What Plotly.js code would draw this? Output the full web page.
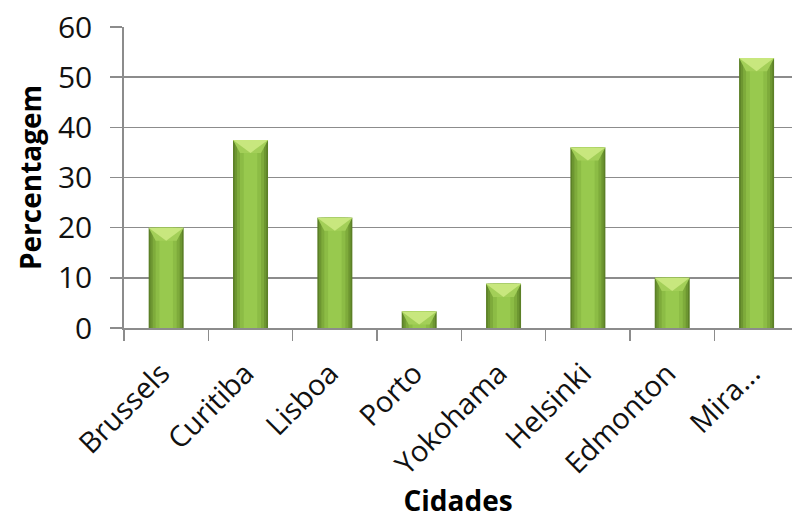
<!DOCTYPE html>
<html>
<head>
<meta charset="utf-8">
<script src="https://cdn.plot.ly/plotly-3.0.1.min.js"></script>
<style>html,body{margin:0;padding:0;background:#fff;}#chart{width:792px;height:519px;}</style>
</head>
<body>
<div id="chart"></div>
<script>
const categories = ["Brussels", "Curitiba", "Lisboa", "Porto", "Yokohama", "Helsinki", "Edmonton", "Mira..."];
const percentages = [20, 37.5, 22, 3.3, 8.8, 36, 10, 53.8];
const yTickValues = [0, 10, 20, 30, 40, 50, 60];

const layers = [
  {w: 0.415, c: "#5c8027"},
  {w: 0.375, c: "#6d9631"},
  {w: 0.32, c: "#7eab3b"},
  {w: 0.25, c: "#8cbc45"},
  {w: 0.16, c: "#98c94e"}
];
const traces = layers.map(l => ({
  type: "bar",
  x: categories,
  y: percentages,
  width: l.w,
  marker: {color: l.c, line: {width: 0}},
  hoverinfo: "skip",
  showlegend: false
}));

const shapes = [];
const hw = 0.2075;
const bevel = 2.6;
percentages.forEach((v, i) => {
  const d = Math.min(bevel, v * 0.8);
  shapes.push({
    type: "path", xref: "x", yref: "y",
    path: `M ${i - hw} ${v} L ${i + hw} ${v} L ${i + hw * 0.6} ${v - d} L ${i - hw * 0.6} ${v - d} Z`,
    fillcolor: "#a3cf58", line: {width: 0}, layer: "above"
  });
  shapes.push({
    type: "path", xref: "x", yref: "y",
    path: `M ${i - hw} ${v} L ${i + hw} ${v} L ${i} ${v - d} Z`,
    fillcolor: "#c8e77e", line: {width: 0}, layer: "above"
  });
});

const font = "'Open Sans', sans-serif";
const layout = {
  width: 792, height: 519,
  margin: {l: 124, r: 0, t: 27, b: 191},
  paper_bgcolor: "#ffffff", plot_bgcolor: "#ffffff",
  barmode: "overlay",
  shapes: shapes,
  font: {family: font, color: "#000000", size: 30},
  xaxis: {
    type: "category",
    range: [-0.5, 7.42],
    tickson: "boundaries",
    ticks: "outside", ticklen: 11, tickwidth: 1.5, tickcolor: "#8c8c8c",
    showline: true, linecolor: "#8c8c8c", linewidth: 1.8,
    showgrid: false, zeroline: false,
    tickangle: -45,
    ticklabelstandoff: 15,
    ticklabelshift: -5,
    tickfont: {family: font, size: 29, color: "#111"},
    title: {text: "Cidades", font: {family: font, size: 28, color: "#000", weight: "bold"}, standoff: 24}
  },
  yaxis: {
    range: [0, 60],
    tickvals: yTickValues,
    ticks: "outside", ticklen: 12, tickwidth: 1.5, tickcolor: "#8c8c8c",
    showline: true, linecolor: "#8c8c8c", linewidth: 1.8,
    showgrid: true, gridcolor: "#8c8c8c", gridwidth: 1.5,
    zeroline: false,
    ticklabelstandoff: 12,
    tickfont: {family: font, size: 30, color: "#111"},
    title: {text: "Percentagem", font: {family: font, size: 28, color: "#000", weight: "bold"}, standoff: 8}
  }
};

Plotly.newPlot("chart", traces, layout, {displayModeBar: false, staticPlot: true});
</script>
</body>
</html>
